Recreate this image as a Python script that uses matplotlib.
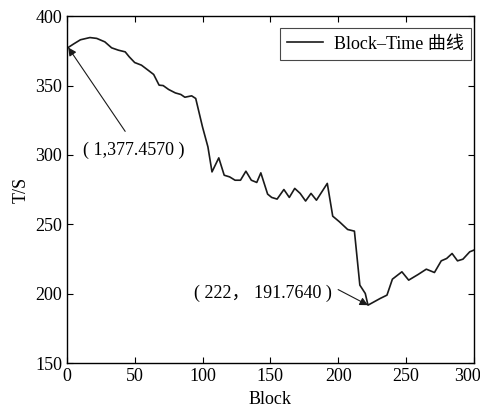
import matplotlib.pyplot as plt
from matplotlib.transforms import ScaledTranslation

plt.rcParams['font.family'] = ['Liberation Serif', 'Noto Sans CJK SC', 'DejaVu Sans']

# Block-Time 曲线
blocks = [1, 5, 10, 17, 22, 28, 33, 38, 43, 46, 50, 55, 60, 64, 68, 71, 75, 80, 84, 87,
          92, 95, 100, 104, 107, 112, 116, 120, 124, 128, 132, 136, 140, 143, 148, 151,
          155, 160, 164, 168, 172, 176, 180, 184, 192, 196, 201, 207, 212, 216, 220, 222,
          231, 236, 240, 247, 252, 259, 265, 271, 276, 280, 284, 288, 292, 297, 300]
times = [377.457, 380.0, 383.0, 384.6, 384.0, 381.5, 377.2, 375.5, 374.3, 370.7, 366.6,
         364.7, 361.0, 358.0, 350.3, 350.0, 347.2, 344.7, 343.6, 341.6, 342.6, 340.7,
         320.2, 305.8, 287.8, 297.9, 285.4, 284.2, 281.8, 281.8, 288.3, 281.8, 280.2,
         287.1, 271.8, 269.4, 268.2, 275.1, 269.4, 275.9, 272.3, 266.8, 272.3, 267.4,
         279.5, 255.9, 251.8, 246.3, 245.1, 206.2, 200.2, 191.764, 196.6, 199.0, 210.5,
         215.8, 209.8, 213.9, 217.7, 215.3, 223.7, 225.4, 229.0, 223.7, 224.9, 230.2, 231.4]

x_ticks = [0, 50, 100, 150, 200, 250, 300]
y_ticks = [150, 200, 250, 300, 350, 400]

fig = plt.figure(figsize=(4.81, 4.15), dpi=100)
ax = fig.add_axes([0.139, 0.125, 0.846, 0.836])

ax.plot(blocks, times, color='#1a1a1a', lw=1.2, label='Block–Time 曲线')

ax.set_xlim(0, 300)
ax.set_ylim(150, 400)
ax.set_xticks(x_ticks)
ax.set_yticks(y_ticks)
ax.tick_params(direction='in', top=True, right=True, labelsize=13, length=4, width=0.8)
for s in ax.spines.values():
    s.set_linewidth(1.0)

# last x label sits a bit left so it stays inside the figure
last = ax.get_xticklabels()[-1]
last.set_transform(last.get_transform() + ScaledTranslation(-6 / 100, 0, fig.dpi_scale_trans))

ax.set_xlabel('Block', fontsize=13, labelpad=4)
ax.set_ylabel('T/S', fontsize=13, labelpad=4)

# annotations
arrow = dict(arrowstyle='-|>', color='#1a1a1a', lw=0.8, mutation_scale=12,
             shrinkA=0, shrinkB=0)
ax.annotate('', xy=(blocks[0], times[0]), xytext=(43, 317), arrowprops=arrow)
ax.text(49.5, 303.5, '( 1,377.4570 )', fontsize=13, ha='center', va='center')

ax.annotate('', xy=(222, 191.764), xytext=(200, 203), arrowprops=arrow)
ax.text(144.5, 200.4, '( 222， 191.7640 )', fontsize=13, ha='center', va='center')

leg = ax.legend(loc='upper right', fontsize=13, frameon=True, fancybox=False,
                edgecolor='#1a1a1a', handlelength=2.0, handletextpad=0.6,
                borderpad=0.4, borderaxespad=0, bbox_to_anchor=(0.993, 0.965))
leg.get_frame().set_linewidth(0.8)

fig.savefig('out.png', dpi=100)
